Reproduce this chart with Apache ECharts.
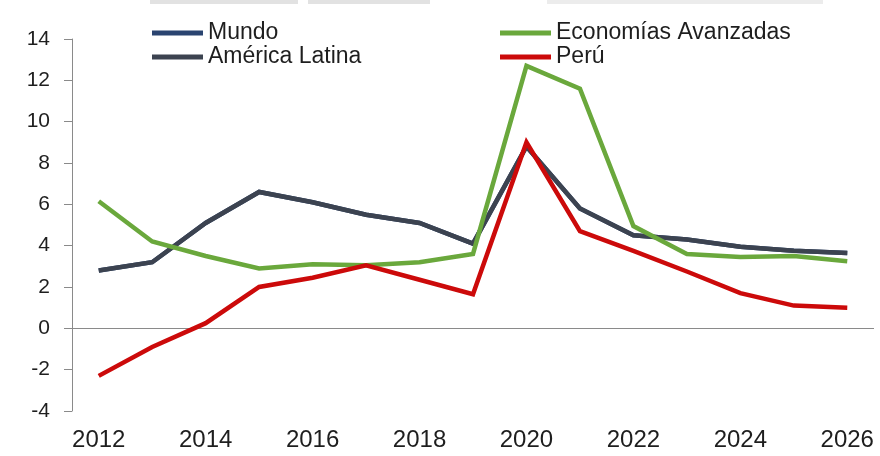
<!DOCTYPE html>
<html>
<head>
<meta charset="utf-8">
<script src="https://cdn.jsdelivr.net/npm/echarts@6/dist/echarts.min.js"></script>
<style>
  html, body { margin: 0; padding: 0; background: #fff; }
  #chart { width: 880px; height: 456px; }
</style>
</head>
<body>
<div id="chart"></div>
<script>
// Years on the horizontal axis
const years = ['2012','2013','2014','2015','2016','2017','2018','2019','2020','2021','2022','2023','2024','2025','2026'];

// Series values (%)
const mundo          = [2.8, 3.2, 5.1, 6.6, 6.1, 5.5, 5.1, 4.1, 8.8, 5.8, 4.5, 4.3, 3.95, 3.75, 3.65];
const americaLatina  = [2.8, 3.2, 5.1, 6.6, 6.1, 5.5, 5.1, 4.1, 8.8, 5.8, 4.5, 4.3, 3.95, 3.75, 3.65];
const economiasAvanz = [6.15, 4.2, 3.5, 2.9, 3.1, 3.05, 3.2, 3.6, 12.7, 11.6, 4.95, 3.6, 3.45, 3.5, 3.25];
const peru           = [-2.3, -0.9, 0.25, 2.0, 2.45, 3.05, 2.35, 1.65, 9.0, 4.7, 3.75, 2.75, 1.7, 1.1, 1.0];

// Value-axis ticks
const yMin = -4, yMax = 14, yStep = 2;

const FONT = '"Liberation Sans", Arial, sans-serif';
const TEXT = '#1e1e1e';

const chart = echarts.init(document.getElementById('chart'), null, { renderer: 'canvas' });

function line(name, data, color, z) {
  return {
    name, type: 'line', data, z,
    symbol: 'none',
    lineStyle: { width: 4.5, color, cap: 'butt', join: 'miter' },
    itemStyle: { color }
  };
}

const seriesList = [
  line('Mundo', mundo, '#2a4470', 2),
  line('América Latina', americaLatina, '#3c4350', 3),
  line('Economías Avanzadas', economiasAvanz, '#6aa83c', 4),
  line('Perú', peru, '#cc0a0a', 5)
];
// zero reference line across the plot
seriesList[0].markLine = {
  silent: true, symbol: 'none', label: { show: false },
  lineStyle: { color: '#8a8a8a', width: 1, type: 'solid' },
  data: [{ yAxis: 0 }]
};

const legendCommon = {
  orient: 'vertical', top: 21, itemGap: 0, padding: 0,
  itemWidth: 51, itemHeight: 5, icon: 'rect',
  textStyle: { fontFamily: FONT, fontSize: 23, color: TEXT, lineHeight: 24 }
};

chart.setOption({
  animation: false,
  backgroundColor: '#fff',
  graphic: [
    { type: 'rect', shape: { x: 150, y: 0, width: 148, height: 4 }, style: { fill: '#e2e2e2' } },
    { type: 'rect', shape: { x: 308, y: 0, width: 122, height: 4 }, style: { fill: '#e2e2e2' } },
    { type: 'rect', shape: { x: 547, y: 0, width: 276, height: 4 }, style: { fill: '#ececec' } }
  ],
  legend: [
    Object.assign({ left: 152, data: ['Mundo', 'América Latina'] }, legendCommon),
    Object.assign({ left: 500, data: ['Economías Avanzadas', 'Perú'] }, legendCommon)
  ],
  grid: { left: 72, right: 6, top: 39, bottom: 45 },
  xAxis: {
    type: 'category', data: years, boundaryGap: true,
    axisLine: { show: false, onZero: false },
    axisTick: { show: false },
    axisLabel: {
      interval: 1, margin: 17,
      fontFamily: FONT, fontSize: 24, color: TEXT
    },
    splitLine: { show: false }
  },
  yAxis: {
    type: 'value', min: yMin, max: yMax, interval: yStep,
    axisLine: { show: true, lineStyle: { color: '#8a8a8a', width: 1 } },
    axisTick: { show: true, inside: false, length: 8, lineStyle: { color: '#8a8a8a' } },
    axisLabel: { margin: 22, fontFamily: FONT, fontSize: 21, color: TEXT },
    splitLine: { show: false }
  },
  series: seriesList
});
</script>
</body>
</html>
